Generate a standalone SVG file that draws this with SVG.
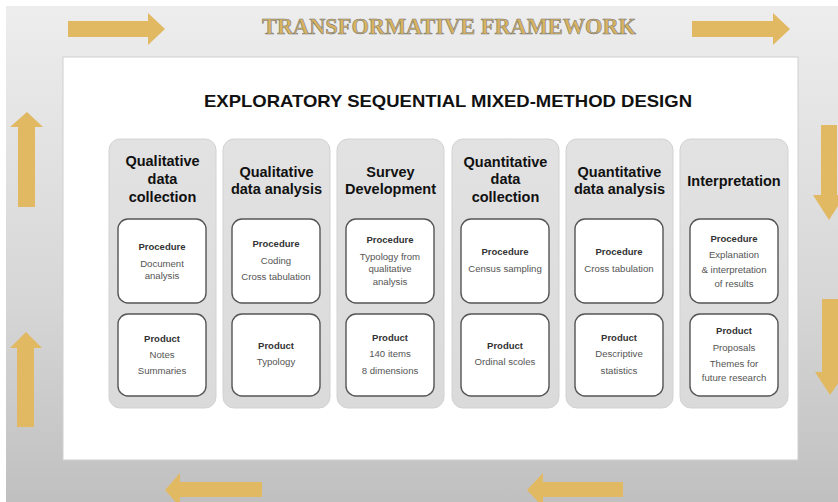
<svg xmlns="http://www.w3.org/2000/svg" width="838" height="502" viewBox="0 0 838 502">
<defs>
<linearGradient id="bg" x1="0" y1="0" x2="0" y2="1">
<stop offset="0" stop-color="#ededed"/>
<stop offset="0.6" stop-color="#d6d6d6"/>
<stop offset="1" stop-color="#c0c0c0"/>
</linearGradient>
<linearGradient id="colg" x1="0" y1="0" x2="0" y2="1">
<stop offset="0" stop-color="#e2e2e2"/>
<stop offset="1" stop-color="#dadada"/>
</linearGradient>
</defs>
<style>
.arrow{fill:#e2b963}
.col{fill:url(#colg);stroke:#d2d2d2;stroke-width:1}
.box{fill:#ffffff;stroke:#555555;stroke-width:1.4}
.hd{font-family:"Liberation Sans",Arial,sans-serif;font-weight:bold;font-size:14.5px;fill:#111111;text-anchor:middle}
.lb{font-family:"Liberation Sans",Arial,sans-serif;font-weight:bold;font-size:9.5px;fill:#333333;text-anchor:middle}
.tx{font-family:"Liberation Sans",Arial,sans-serif;font-size:9.6px;fill:#555555;text-anchor:middle}
</style>
<rect x="0" y="0" width="838" height="502" fill="#ffffff"/>
<rect x="6" y="6" width="832" height="496" fill="url(#bg)"/>
<g id="frame-arrows">
<path class="arrow" d="M68 21H148V13L165 29L148 45V37H68Z"/>
<path class="arrow" d="M692 21H773V13L790 29L773 45V37H692Z"/>
<path class="arrow" d="M18 207V127H10L27 112L43 127H35V207Z"/>
<path class="arrow" d="M17 427V348H10L26 332L42 348H34V427Z"/>
<path class="arrow" d="M821 125V195H813L829 220L845 195H837V125Z"/>
<path class="arrow" d="M822 299V372H815L830 395L846 372H838V299Z"/>
<path class="arrow" d="M262 482H180V473L165 490L180 507V497H262Z"/>
<path class="arrow" d="M623 482H543V473L527 490L543 507V497H623Z"/>
</g>
<text x="449" y="34" text-anchor="middle" font-family="'Liberation Serif','Times New Roman',serif" font-weight="bold" font-size="24" textLength="374" lengthAdjust="spacingAndGlyphs" fill="#d9b35e" stroke="#777777" stroke-width="0.6">TRANSFORMATIVE FRAMEWORK</text>
<rect x="63" y="57" width="735" height="403" fill="#ffffff" stroke="#cfcfcf" stroke-width="1"/>
<text x="448" y="107" text-anchor="middle" font-family="'Liberation Sans',Arial,sans-serif" font-weight="bold" font-size="17" textLength="488" lengthAdjust="spacingAndGlyphs" fill="#111111">EXPLORATORY SEQUENTIAL MIXED-METHOD DESIGN</text>
<g id="connectors"/>
<g id="col1">
<rect class="col" x="109" y="139" width="107" height="269" rx="11"/>
<text class="hd" x="162.5" y="166">Qualitative</text>
<text class="hd" x="162.5" y="184">data</text>
<text class="hd" x="162.5" y="202">collection</text>
<rect class="box" x="118" y="219" width="88" height="84" rx="10"/>
<text class="lb" x="162" y="250">Procedure</text>
<text class="tx" x="162" y="267">Document</text>
<text class="tx" x="162" y="279">analysis</text>
<rect class="box" x="118" y="314" width="88" height="82" rx="10"/>
<text class="lb" x="162" y="342">Product</text>
<text class="tx" x="162" y="358">Notes</text>
<text class="tx" x="162" y="374">Summaries</text>
</g>
<g id="col2">
<rect class="col" x="223" y="139" width="107" height="269" rx="11"/>
<text class="hd" x="276.5" y="177">Qualitative</text>
<text class="hd" x="276.5" y="194">data analysis</text>
<rect class="box" x="232" y="219" width="88" height="84" rx="10"/>
<text class="lb" x="276" y="247">Procedure</text>
<text class="tx" x="276" y="264">Coding</text>
<text class="tx" x="276" y="280">Cross tabulation</text>
<rect class="box" x="232" y="314" width="88" height="82" rx="10"/>
<text class="lb" x="276" y="349">Product</text>
<text class="tx" x="276" y="365">Typology</text>
</g>
<g id="col3">
<rect class="col" x="337" y="139" width="107" height="269" rx="11"/>
<text class="hd" x="390.5" y="177">Survey</text>
<text class="hd" x="390.5" y="194">Development</text>
<rect class="box" x="346" y="219" width="88" height="84" rx="10"/>
<text class="lb" x="390" y="243">Procedure</text>
<text class="tx" x="390" y="260">Typology from</text>
<text class="tx" x="390" y="272">qualitative</text>
<text class="tx" x="390" y="285">analysis</text>
<rect class="box" x="346" y="314" width="88" height="82" rx="10"/>
<text class="lb" x="390" y="341">Product</text>
<text class="tx" x="390" y="357">140 items</text>
<text class="tx" x="390" y="374">8 dimensions</text>
</g>
<g id="col4">
<rect class="col" x="452" y="139" width="107" height="269" rx="11"/>
<text class="hd" x="505.5" y="167">Quantitative</text>
<text class="hd" x="505.5" y="184">data</text>
<text class="hd" x="505.5" y="202">collection</text>
<rect class="box" x="461" y="219" width="88" height="84" rx="10"/>
<text class="lb" x="505" y="255">Procedure</text>
<text class="tx" x="505" y="272">Census sampling</text>
<rect class="box" x="461" y="314" width="88" height="82" rx="10"/>
<text class="lb" x="505" y="349">Product</text>
<text class="tx" x="505" y="365">Ordinal scoles</text>
</g>
<g id="col5">
<rect class="col" x="566" y="139" width="107" height="269" rx="11"/>
<text class="hd" x="619.5" y="177">Quantitative</text>
<text class="hd" x="619.5" y="194">data analysis</text>
<rect class="box" x="575" y="219" width="88" height="84" rx="10"/>
<text class="lb" x="619" y="255">Procedure</text>
<text class="tx" x="619" y="272">Cross tabulation</text>
<rect class="box" x="575" y="314" width="88" height="82" rx="10"/>
<text class="lb" x="619" y="341">Product</text>
<text class="tx" x="619" y="357">Descriptive</text>
<text class="tx" x="619" y="374">statistics</text>
</g>
<g id="col6">
<rect class="col" x="680" y="139" width="108" height="269" rx="11"/>
<text class="hd" x="734" y="186">Interpretation</text>
<rect class="box" x="690" y="219" width="88" height="84" rx="10"/>
<text class="lb" x="734" y="242">Procedure</text>
<text class="tx" x="734" y="258">Explanation</text>
<text class="tx" x="734" y="273">&amp; interpretation</text>
<text class="tx" x="734" y="287">of results</text>
<rect class="box" x="690" y="314" width="88" height="82" rx="10"/>
<text class="lb" x="734" y="334">Product</text>
<text class="tx" x="734" y="351">Proposals</text>
<text class="tx" x="734" y="367">Themes for</text>
<text class="tx" x="734" y="381">future research</text>
</g>
</svg>
